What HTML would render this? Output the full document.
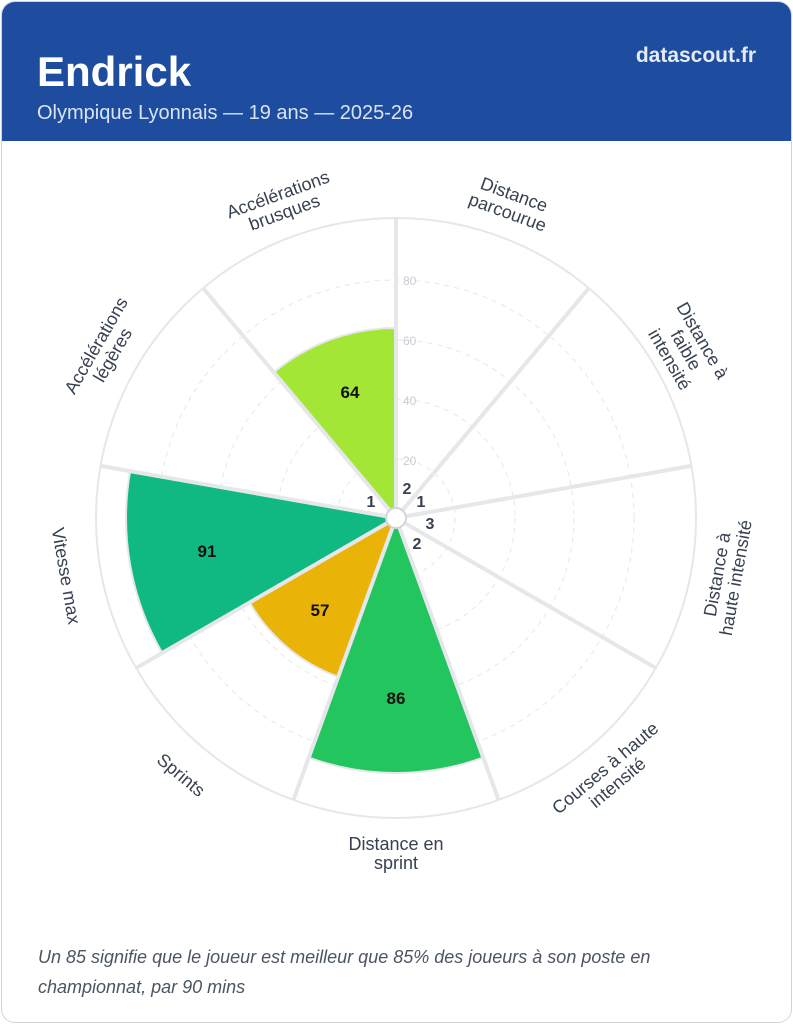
<!DOCTYPE html>
<html><head><meta charset="utf-8"><style>
body{margin:0;width:793px;height:1024px;background:#fff;font-family:"Liberation Sans",sans-serif;overflow:hidden}
.card{position:absolute;left:1px;top:1px;width:789px;height:1020px;border:1px solid #d1d5db;border-radius:14px;overflow:hidden;background:#fff}
.hdr{position:absolute;left:0;top:0;width:789px;height:139px;background:#1e4d9f}
.t{position:absolute;left:35px;top:46px;color:#fff;font-weight:bold;font-size:42px}
.s{position:absolute;left:35px;top:100px;color:#dbe4f3;font-size:20px}
.d{position:absolute;right:35px;top:42px;color:#e5ebf5;font-weight:bold;font-size:21px}
.f{position:absolute;left:36px;top:940px;color:#4b5563;font-style:italic;font-size:18px;line-height:30px;width:720px}
svg{position:absolute;left:0;top:0}
</style></head><body>
<div class="card">
<div class="hdr"><div class="t">Endrick</div><div class="s">Olympique Lyonnais — 19 ans — 2025-26</div><div class="d">datascout.fr</div></div>
<div class="f">Un 85 signifie que le joueur est meilleur que 85% des joueurs à son poste en championnat, par 90 mins</div>
</div>
<svg width="793" height="1024">
<g transform="translate(396,518)">
<circle r="300" fill="#fff" stroke="#e5e7eb" stroke-width="2"/>
<g fill="none" stroke="#e5e7eb" stroke-dasharray="5,5" stroke-width="1">
<circle r="59"/><circle r="119"/><circle r="178"/><circle r="238"/>
</g>
<g fill="#a3e635" stroke="#e5e7eb" stroke-width="2">
<path transform="rotate(340)" d="M0,0 L-65,-178.6 A190,190 0 0 1 65,-178.6Z"/>
<path fill="#10b981" transform="rotate(260)" d="M0,0 L-92.3,-253.7 A270,270 0 0 1 92.3,-253.7Z"/>
<path fill="#eab308" transform="rotate(220)" d="M0,0 L-57.8,-158.8 A169,169 0 0 1 57.8,-158.8Z"/>
<path fill="#22c55e" transform="rotate(180)" d="M0,0 L-87.2,-239.6 A255,255 0 0 1 87.2,-239.6Z"/>
</g>
<g stroke="#e5e7eb" stroke-width="4">
<line x1="0" y1="-10" x2="0" y2="-300" transform="rotate(0)"/>
<line x1="0" y1="-10" x2="0" y2="-300" transform="rotate(40)"/>
<line x1="0" y1="-10" x2="0" y2="-300" transform="rotate(80)"/>
<line x1="0" y1="-10" x2="0" y2="-300" transform="rotate(120)"/>
<line x1="0" y1="-10" x2="0" y2="-300" transform="rotate(160)"/>
<line x1="0" y1="-10" x2="0" y2="-300" transform="rotate(200)"/>
<line x1="0" y1="-10" x2="0" y2="-300" transform="rotate(240)"/>
<line x1="0" y1="-10" x2="0" y2="-300" transform="rotate(280)"/>
<line x1="0" y1="-10" x2="0" y2="-300" transform="rotate(320)"/>
</g>
<circle r="10" fill="#fff" stroke="#d1d5db" stroke-width="2"/>
<g fill="#c8ccd2" font-size="12">
<text x="7" y="-233">80</text><text x="7" y="-173">60</text><text x="7" y="-113">40</text><text x="7" y="-53">20</text>
</g>
</g>
<g font-weight="bold" font-size="17" text-anchor="middle" fill="#111">
<text x="350" y="398">64</text><text x="207" y="557">91</text><text x="320" y="616">57</text><text x="396" y="704">86</text>
</g>
<g font-weight="bold" font-size="16" text-anchor="middle" fill="#374151">
<text x="407" y="494">2</text><text x="421" y="507">1</text><text x="430" y="529">3</text><text x="417" y="549">2</text><text x="371" y="507">1</text>
</g>
<g font-size="18" fill="#374151" text-anchor="middle">
<text transform="translate(511,203) rotate(20)"><tspan x="0" y="-3">Distance</tspan><tspan x="0" y="16">parcourue</tspan></text>
<text transform="translate(686,350) rotate(60)"><tspan x="0" y="-13">Distance à</tspan><tspan x="0" y="6">faible</tspan><tspan x="0" y="25">intensité</tspan></text>
<text transform="translate(726,576) rotate(-80)"><tspan x="0" y="-3">Distance à</tspan><tspan x="0" y="16">haute intensité</tspan></text>
<text transform="translate(611,775) rotate(-40)"><tspan x="0" y="-3">Courses à haute</tspan><tspan x="0" y="16">intensité</tspan></text>
<text transform="translate(396,853)"><tspan x="0" y="-3">Distance en</tspan><tspan x="0" y="16">sprint</tspan></text>
<text transform="translate(181,775) rotate(40)"><tspan x="0" y="6">Sprints</tspan></text>
<text transform="translate(66,576) rotate(80)"><tspan x="0" y="6">Vitesse max</tspan></text>
<text transform="translate(104,350) rotate(-60)"><tspan x="0" y="-3">Accélérations</tspan><tspan x="0" y="16">légères</tspan></text>
<text transform="translate(281,203) rotate(-20)"><tspan x="0" y="-3">Accélérations</tspan><tspan x="0" y="16">brusques</tspan></text>
</g>
</svg>
</body></html>
